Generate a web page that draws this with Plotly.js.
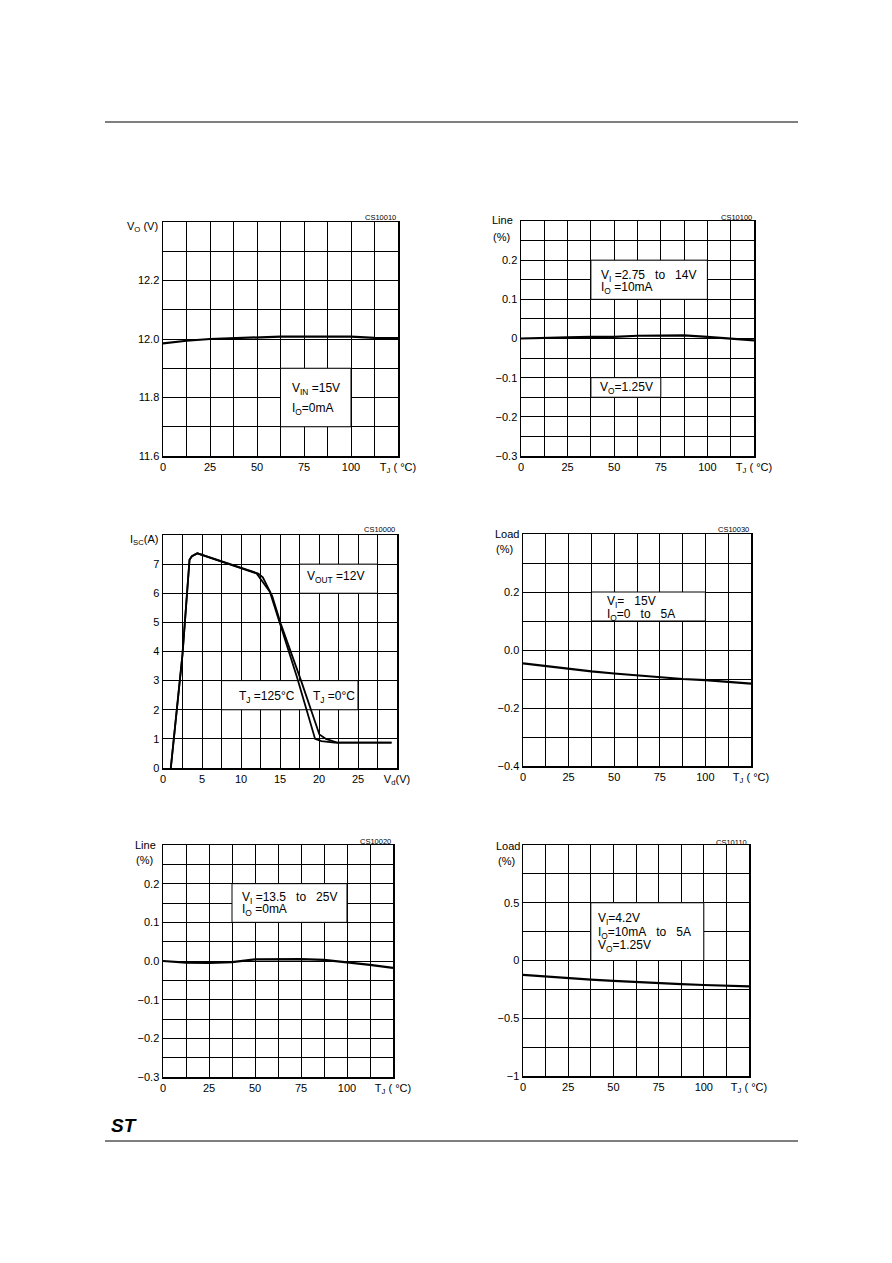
<!DOCTYPE html>
<html><head><meta charset="utf-8">
<script src="https://cdn.plot.ly/plotly-3.0.1.min.js"></script>
<style>html,body{margin:0;padding:0;background:#fff;}#chart{width:892px;height:1263px;}</style>
</head><body><div id="chart"></div>
<script>
const W = 892, H = 1263;
const FONT = 'Liberation Sans, Arial, sans-serif';
const SP = '\u00a0';

// ---------- data ----------
const tempC = [0, 12.5, 25, 37.5, 50, 62.5, 75, 87.5, 100, 112.5, 125];
const voutV = [11.985, 11.994, 12.0, 12.003, 12.005, 12.008, 12.008, 12.009, 12.008, 12.004, 12.003];
const lineReg125 = [0, 0.002, 0.003, 0.004, 0.004, 0.007, 0.008, 0.008, 0.004, 0.0, -0.005];
const loadReg15 = [-0.046, -0.056, -0.066, -0.074, -0.081, -0.088, -0.095, -0.100, -0.104, -0.110, -0.116];
const lineReg12 = [0, -0.004, -0.005, -0.003, 0.004, 0.005, 0.005, 0.003, -0.003, -0.010, -0.018];
const loadReg125 = [-0.124, -0.139, -0.153, -0.165, -0.176, -0.187, -0.197, -0.205, -0.212, -0.218, -0.224];

const vdHot = [1.0, 2.5, 3.4, 3.7, 4.4, 12.0, 13.7, 15.0, 17.2, 19.5, 20.3, 22.0, 29.3];
const iscHot = [0, 3.9, 7.15, 7.27, 7.37, 6.68, 6.05, 4.97, 3.1, 1.0, 0.92, 0.87, 0.87];
const vdCold = [1.0, 2.5, 3.4, 3.7, 4.4, 12.2, 12.8, 14.0, 15.1, 17.7, 20.05, 20.9, 22.3, 29.3];
const iscCold = [0, 3.9, 7.15, 7.27, 7.37, 6.68, 6.55, 5.9, 4.95, 3.0, 1.15, 1.0, 0.87, 0.87];

// ---------- tick labels ----------
const tjLabels = ['0', '', '25', '', '50', '', '75', '', '100', '', 'T<sub>J</sub> ( °C)'];
const vdLabels = ['0', '', '5', '', '10', '', '15', '', '20', '', '25', '', 'V<sub>d</sub>(V)'];
const voLabels = ['11.6', '', '11.8', '', '12.0', '', '12.2', '', ''];
const lineLabelsA = ['−0.3', '', '−0.2', '', '−0.1', '', '0', '', '0.1', '', '0.2', '', ''];
const lineLabelsB = ['−0.3', '', '−0.2', '', '−0.1', '', '0.0', '', '0.1', '', '0.2', '', ''];
const iscLabels = ['0', '1', '2', '3', '4', '5', '6', '7', ''];
const loadLabelsA = ['−0.4', '', '−0.2', '', '0.0', '', '0.2', '', ''];
const loadLabelsB = ['−1', '', '−0.5', '', '0', '', '0.5', '', ''];

// ---------- helpers ----------
function seq(a, b, s) { const n = Math.round((b - a) / s); const o = []; for (let i = 0; i <= n; i++) o.push(+(a + i * s).toFixed(6)); return o; }
function axis(domain, range, step, labels, anchor) {
  return {
    domain: domain, range: range, anchor: anchor, tickmode: 'array',
    tickvals: seq(range[0], range[1], step), ticktext: labels,
    showgrid: true, gridcolor: '#000', gridwidth: 1, zeroline: false,
    showline: true, mirror: true, linecolor: '#000', linewidth: 1.5,
    ticks: '', tickfont: {family: FONT, size: 11, color: '#000'}, fixedrange: true
  };
}
function dx(a, b) { return [a / W, b / W]; }
function dy(top, bot) { return [1 - bot / H, 1 - top / H]; }
function line(x, y, xa, ya, w) {
  return {x: x, y: y, xaxis: xa, yaxis: ya, type: 'scatter', mode: 'lines',
    line: {color: '#000', width: w || 2.2}, hoverinfo: 'skip'};
}

const traces = [
  line(tempC, voutV, 'x', 'y'),
  line(tempC, lineReg125, 'x2', 'y2'),
  line(vdHot, iscHot, 'x3', 'y3', 1.8),
  line(vdCold, iscCold, 'x3', 'y3', 1.8),
  line(tempC, loadReg15, 'x4', 'y4'),
  line(tempC, lineReg12, 'x5', 'y5'),
  line(tempC, loadReg125, 'x6', 'y6')
];

const layout = {
  width: W, height: H, margin: {l: 0, r: 0, t: 0, b: 0},
  paper_bgcolor: '#fff', plot_bgcolor: '#fff', showlegend: false,
  font: {family: FONT, size: 11, color: '#000'},
  xaxis: axis(dx(163, 398), [0, 125], 12.5, tjLabels, 'y'),
  yaxis: axis(dy(222, 456), [11.6, 12.4], 0.1, voLabels, 'x'),
  xaxis2: axis(dx(521, 754), [0, 125], 12.5, tjLabels, 'y2'),
  yaxis2: axis(dy(221, 456), [-0.3, 0.3], 0.05, lineLabelsA, 'x2'),
  xaxis3: axis(dx(163, 397), [0, 30], 2.5, vdLabels, 'y3'),
  yaxis3: axis(dy(535, 768), [0, 8], 1, iscLabels, 'x3'),
  xaxis4: axis(dx(523, 751), [0, 125], 12.5, tjLabels, 'y4'),
  yaxis4: axis(dy(534, 766), [-0.4, 0.4], 0.1, loadLabelsA, 'x4'),
  xaxis5: axis(dx(163, 393), [0, 125], 12.5, tjLabels, 'y5'),
  yaxis5: axis(dy(845, 1077), [-0.3, 0.3], 0.05, lineLabelsB, 'x5'),
  xaxis6: axis(dx(523, 749), [0, 125], 12.5, tjLabels, 'y6'),
  yaxis6: axis(dy(845, 1076), [-1, 1], 0.25, loadLabelsB, 'x6'),
  shapes: [],
  annotations: []
};

// white label boxes (below the curves, above the grid)
function box(n, x0, x1, y0, y1) {
  layout.shapes.push({type: 'rect', layer: 'between', xref: 'x' + n, yref: 'y' + n,
    x0: x0, x1: x1, y0: y0, y1: y1, fillcolor: '#fff', line: {color: '#000', width: 1}});
}
box('', 62.5, 100, 11.7, 11.9);
box(2, 37.5, 100, 0.1, 0.2);
box(2, 37.5, 75, -0.15, -0.1);
box(3, 17.5, 27.5, 6, 7);
box(3, 7.5, 25, 2, 3);
box(4, 37.5, 100, 0.1, 0.2);
box(5, 37.5, 100, 0.1, 0.2);
box(6, 37.5, 100, 0, 0.5);

function txt(n, x, y, s) {
  layout.annotations.push({xref: 'x' + n, yref: 'y' + n, x: x, y: y, text: s, showarrow: false,
    xanchor: 'left', yanchor: 'middle', font: {family: FONT, size: 12, color: '#000'}});
}
const gap = SP + SP + ' ';
txt('', 67.5, 11.829, 'V<sub>IN</sub> =15V');
txt('', 67.5, 11.761, 'I<sub>O</sub>=0mA');
txt(2, 42, 0.16, 'V<sub>I</sub> =2.75' + gap + 'to' + gap + '14V');
txt(2, 42, 0.128, 'I<sub>O</sub> =10mA');
txt(2, 41.5, -0.127, 'V<sub>O</sub>=1.25V');
txt(3, 18.2, 6.56, 'V<sub>OUT</sub> =12V');
txt(3, 9.45, 2.44, 'T<sub>J</sub> =125°C');
txt(3, 18.95, 2.44, 'T<sub>J</sub> =0°C');
txt(4, 45, 0.167, 'V<sub>I</sub>=' + gap + '15V');
txt(4, 45, 0.121, 'I<sub>O</sub>=0' + gap + 'to' + gap + '5A');
txt(5, 41.8, 0.162, 'V<sub>I</sub> =13.5' + gap + 'to' + gap + '25V');
txt(5, 41.8, 0.132, 'I<sub>O</sub> =0mA');
txt(6, 40.5, 0.357, 'V<sub>I</sub>=4.2V');
txt(6, 40.5, 0.236, 'I<sub>O</sub>=10mA' + gap + 'to' + gap + '5A');
txt(6, 40.5, 0.126, 'V<sub>O</sub>=1.25V');

// axis titles placed at the top-left of each panel
function ptxt(px, py, s, anchor, size) {
  layout.annotations.push({xref: 'paper', yref: 'paper', x: px / W, y: 1 - py / H, text: s,
    showarrow: false, xanchor: anchor, yanchor: 'middle', font: {family: FONT, size: size || 11, color: '#000'}});
}
ptxt(160, 227, 'V<sub>O</sub> (V)', 'right');
ptxt(490, 220, 'Line', 'left');
ptxt(491, 237, '(%)', 'left');
ptxt(160, 540, 'I<sub>SC</sub>(A)', 'right');
ptxt(493, 534, 'Load', 'left');
ptxt(494, 549, '(%)', 'left');
ptxt(133, 845, 'Line', 'left');
ptxt(134, 860, '(%)', 'left');
ptxt(494, 846, 'Load', 'left');
ptxt(496, 861, '(%)', 'left');

// figure codes
ptxt(398, 217, 'CS10010', 'right', 7.5);
ptxt(754, 217, 'CS10100', 'right', 7.5);
ptxt(397, 529, 'CS10000', 'right', 7.5);
ptxt(751, 530, 'CS10030', 'right', 7.5);
ptxt(393, 841, 'CS10020', 'right', 7.5);
ptxt(749, 842, 'CS10110', 'right', 7.5);

// page rules and logo
layout.shapes.push({type: 'line', xref: 'paper', yref: 'paper', x0: 105 / W, x1: 798 / W, y0: 1 - 122 / H, y1: 1 - 122 / H, line: {color: '#000', width: 1.2}});
layout.shapes.push({type: 'line', xref: 'paper', yref: 'paper', x0: 105 / W, x1: 798 / W, y0: 1 - 1141 / H, y1: 1 - 1141 / H, line: {color: '#000', width: 1.2}});
ptxt(109, 1125, '<b><i>ST</i></b>', 'left', 19);

Plotly.newPlot('chart', traces, layout, {staticPlot: true, displayModeBar: false});
</script>
</body></html>
